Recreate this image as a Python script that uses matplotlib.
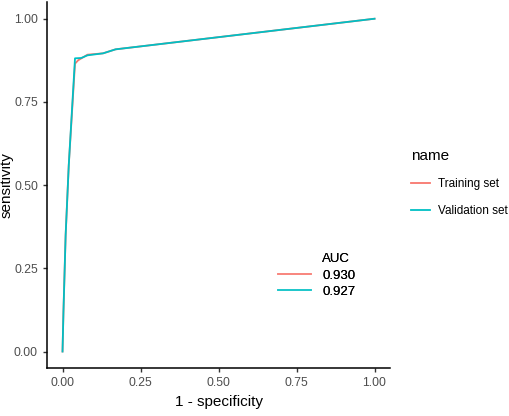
import matplotlib.pyplot as plt
from matplotlib.lines import Line2D

plt.rcParams['font.family'] = ['Liberation Sans', 'DejaVu Sans']

# ROC points
train_fpr = [0.0, 0.003, 0.01, 0.02, 0.04, 0.05, 0.08, 0.13, 0.17, 1.0]
train_tpr = [0.0, 0.12, 0.35, 0.56, 0.865, 0.875, 0.892, 0.896, 0.908, 1.0]
valid_fpr = [0.0, 0.003, 0.01, 0.02, 0.04, 0.06, 0.08, 0.13, 0.17, 1.0]
valid_tpr = [0.0, 0.12, 0.35, 0.56, 0.881, 0.882, 0.89, 0.896, 0.908, 1.0]
names = ['Training set', 'Validation set']
auc = ['0.930', '0.927']
colors = ['#F8766D', '#00BFC4']
ticks = [0.0, 0.25, 0.5, 0.75, 1.0]

fig = plt.figure(figsize=(5.1, 4.16), dpi=100)
ax = fig.add_axes([0.092, 0.115, 0.673, 0.88])

ax.plot(train_fpr, train_tpr, color=colors[0], lw=1.3)
ax.plot(valid_fpr, valid_tpr, color=colors[1], lw=1.3)

ax.set_xlim(-0.05, 1.05)
ax.set_ylim(-0.05, 1.05)
ax.set_xticks(ticks)
ax.set_yticks(ticks)
ax.set_xticklabels(['%.2f' % t for t in ticks])
ax.set_yticklabels(['%.2f' % t for t in ticks])
ax.tick_params(colors='#333333', labelcolor='#4D4D4D', labelsize=8.8, length=3, width=1)
for s in ['top', 'right']:
    ax.spines[s].set_visible(False)
for s in ['left', 'bottom']:
    ax.spines[s].set_linewidth(1.1)
ax.set_xlabel('1 - specificity', fontsize=11, labelpad=4)
ax.set_ylabel('sensitivity', fontsize=11)
ax.yaxis.set_label_coords(-0.097, 0.5)

# AUC legend inside ("AUC" sits in the label column)
h_auc = [Line2D([], [], color='none')] + [Line2D([], [], color=c, lw=1.3, alpha=0.7) for c in colors]
leg1 = ax.legend(h_auc, ['AUC'] + auc, loc='center left', bbox_to_anchor=(0.64, 0.253),
                 frameon=False, fontsize=9.5, handlelength=2.5,
                 labelspacing=0.3, handletextpad=0.8)
ax.add_artist(leg1)

# name legend outside
h_name = [Line2D([], [], color=c, lw=1.3) for c in colors]
leg2 = fig.legend(h_name, names, title='name', loc='center left', bbox_to_anchor=(0.785, 0.56),
                  frameon=False, fontsize=8.5, title_fontsize=11, handlelength=1.6,
                  labelspacing=1.3, handletextpad=0.7)
leg2._legend_box.align = 'left'

fig.savefig('out.png', dpi=100)
